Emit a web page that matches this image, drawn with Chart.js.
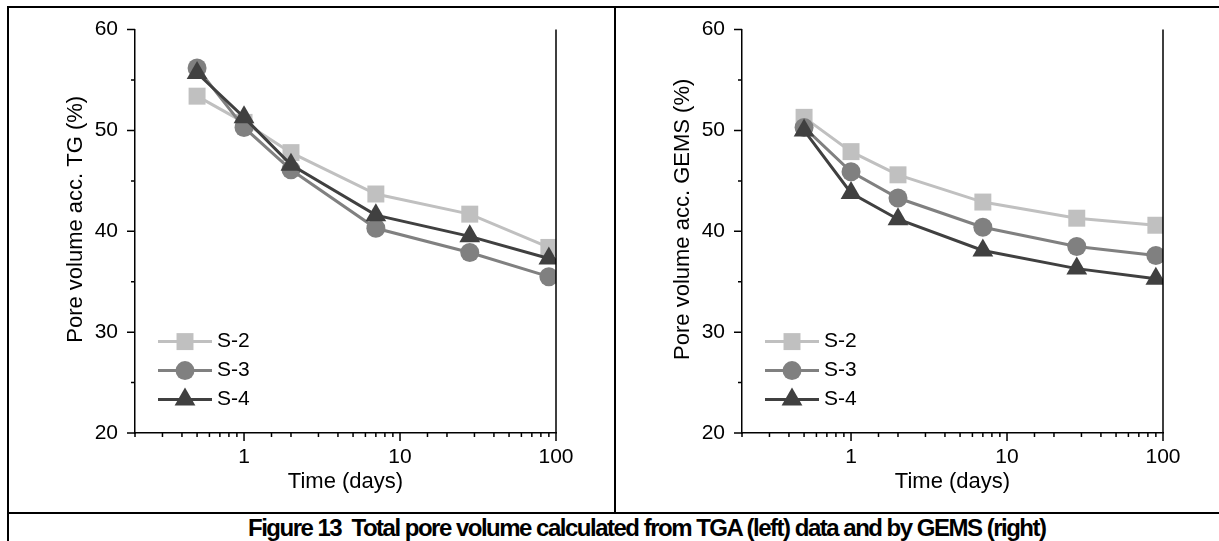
<!DOCTYPE html>
<html>
<head>
<meta charset="utf-8">
<script src="https://cdn.jsdelivr.net/npm/chart.js@4.4.0/dist/chart.umd.min.js"></script>
<style>
  html, body { margin: 0; padding: 0; background: #fff; }
  body { width: 1219px; height: 541px; position: relative; overflow: hidden; font-family: "Liberation Sans", Arial, sans-serif; }
  .rule { position: absolute; background: #000; }
  .panel { position: absolute; top: 8px; width: 605px; height: 504px; }
  #caption { position: absolute; top: 514px; left: 248px; font-weight: bold; font-size: 24px; letter-spacing: -1.5px; white-space: nowrap; line-height: 28px; color: #000; }
</style>
</head>
<body>
<div class="rule" style="left:7px;top:6px;width:1212px;height:2px"></div>
<div class="rule" style="left:7px;top:6px;width:2px;height:535px"></div>
<div class="rule" style="left:614px;top:6px;width:2px;height:508px"></div>
<div class="rule" style="left:7px;top:512px;width:1212px;height:2px"></div>
<div class="panel" style="left:9px"><canvas id="tgChart" width="605" height="504"></canvas></div>
<div class="panel" style="left:616px"><canvas id="gemsChart" width="605" height="504"></canvas></div>
<div id="caption">Figure 13&nbsp; Total pore volume calculated from TGA (left) data and by GEMS (right)</div>

<script>
// hydration time in days (x)
const days = [0.5, 1, 2, 7, 28, 90];

// left panel: pore volume from TG (%)
const tgS2 = [53.4, 50.8, 47.8, 43.7, 41.7, 38.4];
const tgS3 = [56.2, 50.3, 46.1, 40.3, 37.9, 35.5];
const tgS4 = [55.7, 51.3, 46.6, 41.6, 39.5, 37.3];

// right panel: pore volume from GEMS (%)
const gemsS2 = [51.3, 47.9, 45.6, 42.9, 41.3, 40.6];
const gemsS3 = [50.3, 45.9, 43.3, 40.4, 38.5, 37.6];
const gemsS4 = [50.0, 43.8, 41.2, 38.1, 36.3, 35.3];

const seriesNames = ['S-2', 'S-3', 'S-4'];
const xTickLabels = [1, 10, 100];
const yTickValues = [20, 30, 40, 50, 60];

const FONT = '"Liberation Sans", Arial, sans-serif';

const styles = [
    { color: '#c0c0c0', pointStyle: 'rect', radius: 12 },
    { color: '#808080', pointStyle: 'circle', radius: 9.5 },
    { color: '#404040', pointStyle: 'triangle', radius: 12 }
];

function drawMarker(ctx, style, r, x, y) {
    ctx.beginPath();
    if (style === 'rect') {
        const s = Math.SQRT1_2 * r;
        ctx.rect(x - s, y - s, 2 * s, 2 * s);
    } else if (style === 'circle') {
        ctx.arc(x, y, r, 0, Math.PI * 2);
    } else {
        let rad = 0;
        ctx.moveTo(x + Math.sin(rad) * r, y - Math.cos(rad) * r);
        rad += Math.PI * 2 / 3;
        ctx.lineTo(x + Math.sin(rad) * r, y - Math.cos(rad) * r);
        rad += Math.PI * 2 / 3;
        ctx.lineTo(x + Math.sin(rad) * r, y - Math.cos(rad) * r);
        ctx.closePath();
    }
    ctx.fill();
}

// right frame line, major/minor ticks, y title and the in-plot legend
const frameAndLegend = {
    id: 'frameAndLegend',
    afterDraw(chart, args, opts) {
        const { ctx, chartArea: a, scales: { x, y } } = chart;
        ctx.save();
        ctx.strokeStyle = '#000';
        ctx.lineWidth = 1.5;
        ctx.beginPath();
        ctx.moveTo(a.right, a.top);
        ctx.lineTo(a.right, a.bottom);
        x.ticks.forEach(t => {
            const px = x.getPixelForValue(t.value);
            const lg = Math.log10(t.value);
            const major = Math.abs(lg - Math.round(lg)) < 1e-6;
            ctx.moveTo(px, a.bottom);
            ctx.lineTo(px, a.bottom + (major ? 8 : 4));
        });
        for (let v = y.min; v <= y.max; v += 5) {
            const py = y.getPixelForValue(v);
            const major = yTickValues.includes(v);
            ctx.moveTo(a.left, py);
            ctx.lineTo(a.left - (major ? 8 : 4), py);
        }
        ctx.stroke();

        // y axis title, sits a little above the plot centre like the original
        ctx.save();
        ctx.translate(67, (a.top + a.bottom) / 2 - 12);
        ctx.rotate(-Math.PI / 2);
        ctx.fillStyle = '#000';
        ctx.font = '22px ' + FONT;
        ctx.textAlign = 'center';
        ctx.textBaseline = 'middle';
        ctx.fillText(opts.yTitle, 0, 0);
        ctx.restore();

        // legend
        chart.data.datasets.forEach((ds, i) => {
            const yy = a.top + 312 + i * 29;
            ctx.strokeStyle = ds.borderColor;
            ctx.lineWidth = ds.borderWidth;
            ctx.beginPath();
            ctx.moveTo(a.left + 23, yy);
            ctx.lineTo(a.left + 77, yy);
            ctx.stroke();
            ctx.fillStyle = ds.pointBackgroundColor;
            drawMarker(ctx, ds.pointStyle, ds.pointRadius, a.left + 50, yy);
            ctx.fillStyle = '#000';
            ctx.font = '21px ' + FONT;
            ctx.textBaseline = 'middle';
            ctx.textAlign = 'left';
            ctx.fillText(ds.label, a.left + 82, yy);
        });
        ctx.restore();
    }
};

function buildDatasets(seriesList) {
    return seriesList.map((vals, i) => ({
        label: seriesNames[i],
        data: days.map((d, j) => ({ x: d, y: vals[j] })),
        borderColor: styles[i].color,
        backgroundColor: styles[i].color,
        pointBackgroundColor: styles[i].color,
        pointBorderWidth: 0,
        pointStyle: styles[i].pointStyle,
        pointRadius: styles[i].radius,
        borderWidth: 3,
        tension: 0,
        order: 3 - i,
        clip: { left: 30, top: 30, right: 0, bottom: 30 }
    }));
}

function makeChart(canvasId, seriesList, yTitle) {
    return new Chart(document.getElementById(canvasId), {
        type: 'line',
        data: { datasets: buildDatasets(seriesList) },
        options: {
            responsive: false,
            animation: false,
            layout: { padding: { top: 12, right: 58, left: 0, bottom: 0 } },
            plugins: {
                legend: { display: false },
                tooltip: { enabled: false },
                frameAndLegend: { yTitle: yTitle }
            },
            scales: {
                x: {
                    type: 'logarithmic',
                    min: 0.2,
                    max: 100,
                    ticks: {
                        autoSkip: false,
                        maxRotation: 0,
                        color: '#000',
                        padding: 4,
                        font: { size: 21, family: FONT },
                        callback: function(value) {
                            const hit = xTickLabels.find(v => Math.abs(v - value) < 1e-6);
                            return hit !== undefined ? String(hit) : '';
                        }
                    },
                    grid: { display: false, drawTicks: true, tickLength: 8 },
                    border: { display: true, color: '#000', width: 1.5 },
                    title: {
                        display: true,
                        text: 'Time (days)',
                        color: '#000',
                        font: { size: 22, family: FONT },
                        padding: { top: 0, bottom: 17 }
                    },
                    afterFit(scale) { scale.height = 79; }
                },
                y: {
                    min: 20,
                    max: 60,
                    ticks: {
                        stepSize: 10,
                        color: '#000',
                        padding: 9,
                        font: { size: 21, family: FONT }
                    },
                    grid: { display: false, drawTicks: true, tickLength: 8 },
                    border: { display: true, color: '#000', width: 1.5 },
                    title: { display: false },
                    afterFit(scale) { scale.width = 126; }
                }
            }
        },
        plugins: [frameAndLegend]
    });
}

makeChart('tgChart', [tgS2, tgS3, tgS4], 'Pore volume acc. TG (%)');
makeChart('gemsChart', [gemsS2, gemsS3, gemsS4], 'Pore volume acc. GEMS (%)');
</script>
</body>
</html>
